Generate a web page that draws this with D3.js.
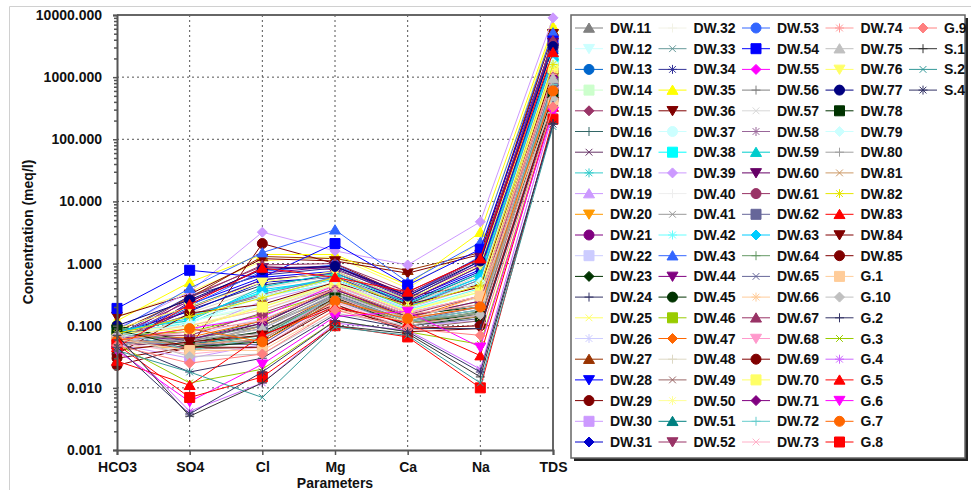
<!DOCTYPE html>
<html>
<head>
<meta charset="utf-8">
<script src="https://cdn.jsdelivr.net/npm/d3@7"></script>
<style>
  body { margin: 0; background: #fff; }
  text { font-family: "Liberation Sans", Arial, sans-serif; font-weight: bold; }
</style>
</head>
<body>
<div class="graphContainer"></div>
<script>
// size of the page
const w = 971;
const h = 490;

// parameters on x axis
const params = ["HCO3", "SO4", "Cl", "Mg", "Ca", "Na", "TDS"];

// sample names (legend order)
const names = ["DW.11","DW.12","DW.13","DW.14","DW.15","DW.16","DW.17","DW.18","DW.19","DW.20",
  "DW.21","DW.22","DW.23","DW.24","DW.25","DW.26","DW.27","DW.28","DW.29","DW.30",
  "DW.31","DW.32","DW.33","DW.34","DW.35","DW.36","DW.37","DW.38","DW.39","DW.40",
  "DW.41","DW.42","DW.43","DW.44","DW.45","DW.46","DW.47","DW.48","DW.49","DW.50",
  "DW.51","DW.52","DW.53","DW.54","DW.55","DW.56","DW.57","DW.58","DW.59","DW.60",
  "DW.61","DW.62","DW.63","DW.64","DW.65","DW.66","DW.67","DW.68","DW.69","DW.70",
  "DW.71","DW.72","DW.73","DW.74","DW.75","DW.76","DW.77","DW.78","DW.79","DW.80",
  "DW.81","DW.82","DW.83","DW.84","DW.85","G.1","G.10","G.2","G.3","G.4",
  "G.5","G.6","G.7","G.8","G.9","S.1","S.2","S.4"];

// concentrations (meq/l), one array per parameter, same order as names
const hco3 = [0.065,0.08,0.055,0.07,0.06,0.09,0.05,0.075,0.06,0.045,
  0.07,0.085,0.1,0.055,0.14,0.065,0.08,0.06,0.023,0.05,
  0.075,0.06,0.095,0.07,0.12,0.14,0.065,0.08,0.09,0.055,
  0.06,0.075,0.085,0.05,0.1,0.07,0.065,0.04,0.06,0.08,
  0.09,0.055,0.07,0.19,0.06,0.075,0.05,0.065,0.085,0.045,
  0.07,0.06,0.08,0.095,0.055,0.07,0.05,0.06,0.035,0.075,
  0.065,0.08,0.055,0.06,0.07,0.09,0.1,0.085,0.065,0.05,
  0.06,0.075,0.045,0.04,0.03,0.06,0.07,0.055,0.05,0.065,
  0.027,0.04,0.058,0.05,0.048,0.07,0.04,0.045];
const so4 = [0.15,0.09,0.2,0.12,0.3,0.06,0.05,0.11,0.08,0.045,
  0.25,0.1,0.055,0.18,0.35,0.07,0.28,0.22,0.045,0.03,
  0.17,0.13,0.04,0.3,0.5,0.32,0.12,0.14,0.35,0.06,
  0.05,0.11,0.4,0.19,0.055,0.08,0.065,0.16,0.042,0.1,
  0.05,0.045,0.21,0.78,0.09,0.06,0.04,0.15,0.12,0.24,
  0.07,0.055,0.13,0.045,0.05,0.1,0.28,0.05,0.16,0.09,
  0.06,0.04,0.035,0.08,0.055,0.2,0.26,0.045,0.11,0.06,
  0.05,0.14,0.22,0.055,0.045,0.04,0.032,0.018,0.012,0.0042,
  0.011,0.006,0.09,0.007,0.025,0.0035,0.018,0.0038];
const cl = [0.3,0.15,0.55,0.2,0.9,0.12,0.08,0.35,0.25,0.1,
  0.7,0.18,0.11,0.45,1.1,0.13,1.3,0.6,2.1,0.05,
  0.5,0.28,0.06,0.65,1.4,1.2,0.22,0.35,3.2,0.09,
  0.1,0.3,1.5,0.55,0.08,0.15,0.12,0.4,0.045,0.2,
  0.07,0.06,0.75,0.6,0.14,0.1,0.065,0.32,0.42,0.85,
  0.16,0.09,0.38,0.07,0.05,0.18,0.95,0.06,0.22,0.2,
  0.11,0.065,0.045,0.12,0.09,0.5,0.8,0.055,0.3,0.075,
  0.06,0.28,0.85,0.07,0.045,0.04,0.035,0.03,0.02,0.012,
  0.07,0.024,0.055,0.015,0.035,0.012,0.007,0.018];
const mg = [0.55,0.4,0.7,0.45,0.8,0.35,0.3,0.6,0.5,0.28,
  0.9,0.42,0.38,0.65,1.3,0.33,1.2,0.75,1.0,0.25,
  0.6,0.5,0.3,0.85,1.4,1.1,0.45,0.55,1.6,0.32,
  0.3,0.48,3.5,0.7,0.27,0.35,0.4,0.65,0.22,0.5,
  0.3,0.28,0.95,2.1,0.45,0.35,0.25,0.6,0.7,0.9,
  0.4,0.32,0.55,0.3,0.26,0.45,1.0,0.3,0.5,0.48,
  0.38,0.3,0.24,0.4,0.33,0.75,0.9,0.28,0.55,0.3,
  0.27,0.6,0.6,0.22,0.2,0.18,0.16,0.15,0.12,0.11,
  0.2,0.14,0.25,0.1,0.18,0.1,0.095,0.12];
const ca = [0.2,0.16,0.25,0.18,0.3,0.14,0.12,0.22,0.19,0.11,
  0.28,0.17,0.15,0.22,0.4,0.13,0.78,0.26,0.3,0.1,
  0.24,0.2,0.12,0.27,0.45,0.7,0.16,0.2,0.95,0.13,
  0.12,0.18,0.5,0.25,0.11,0.14,0.13,0.21,0.09,0.17,
  0.12,0.11,0.3,0.45,0.16,0.13,0.1,0.2,0.23,0.32,
  0.15,0.12,0.2,0.11,0.1,0.16,0.35,0.1,0.22,0.17,
  0.14,0.12,0.09,0.15,0.13,0.26,0.3,0.1,0.19,0.12,
  0.11,0.2,0.35,0.08,0.09,0.12,0.1,0.09,0.08,0.085,
  0.11,0.17,0.13,0.066,0.09,0.075,0.07,0.08];
const na = [0.5,0.3,0.9,0.35,1.2,0.22,0.18,0.6,0.45,0.16,
  1.0,0.28,0.2,0.7,2.2,0.25,1.5,0.8,0.45,0.12,
  0.75,0.5,0.15,1.1,3.2,1.4,0.35,0.55,4.7,0.2,
  0.18,0.4,2.2,0.9,0.15,0.25,0.3,0.65,0.12,0.38,
  0.16,0.14,1.3,1.7,0.3,0.2,0.13,0.55,0.7,1.25,
  0.3,0.2,0.6,0.17,0.13,0.3,1.2,0.15,0.42,0.35,
  0.25,0.18,0.1,0.22,0.2,0.95,1.1,0.14,0.5,0.16,
  0.14,0.45,1.2,0.09,0.1,0.3,0.15,0.09,0.05,0.02,
  0.033,0.045,0.2,0.01,0.07,0.015,0.012,0.018];
const tds = [1800,1200,2600,1400,3500,1000,800,2000,1600,700,
  3000,1100,900,2300,6000,1050,5500,2800,4500,600,
  2400,1700,750,3200,6500,5000,1300,1900,9000,850,
  780,1500,5200,2900,650,1000,1150,2100,550,1500,
  700,640,3300,3800,1250,900,600,1900,2200,3600,
  1300,850,2000,750,620,1200,3900,580,1200,1400,
  1000,760,500,1100,950,2700,3100,520,1700,680,
  640,1600,2500,400,420,380,450,350,300,260,
  330,280,600,210,330,180,160,175];

// marker colours, one per sample
const colors = ["#808080","#ccffff","#0066cc","#ccffcc","#993366","#336666","#663366","#33cccc","#cc99ff","#ff9900",
  "#800080","#ccccff","#003300","#333366","#ffff66","#ccccff","#993300","#0000ff","#800000","#cc99ff",
  "#0000cc","#f2f2e6","#669999","#333399","#ffff00","#800000","#ccffff","#00ffff","#cc99ff","#eeeeee",
  "#999999","#66ffff","#3366ff","#800080","#003300","#99cc00","#ff6600","#ddd8c4","#996666","#ffff99",
  "#008080","#993366","#3366ff","#0000ff","#ff00ff","#808080","#d8d8d8","#996699","#00cccc","#660066",
  "#993366","#666699","#00ccff","#669966","#666699","#ffcc99","#993366","#ff99cc","#800000","#ffff66",
  "#800080","#66cccc","#ffb0c8","#ff9999","#c0c0c0","#ffff66","#000080","#003300","#ccffff","#a0a0a0",
  "#cc9966","#e6e600","#ff0000","#800000","#800000","#ffcc99","#c0c0c0","#333366","#99cc00","#cc66ff",
  "#ff0000","#ff00ff","#ff6600","#ff0000","#ff8080","#333333","#339999","#333366"];

// marker shapes repeat every 8 samples
const shapes = ["tri", "tdn", "cir", "sq", "dia", "plus", "x", "star"];

const svg = d3.select(".graphContainer").append("svg")
  .attr("width", w)
  .attr("height", h);

// faint outer frame
svg.append("path")
  .attr("d", "M9.5," + h + "V6.5H" + w)
  .attr("fill", "none")
  .attr("stroke", "#d0d0d0");

const xScale = d3.scalePoint().domain(params).range([117, 553]);
const yScale = d3.scaleLog().domain([0.001, 10000]).range([450, 15]);

const majors = [0.001, 0.01, 0.1, 1, 10, 100, 1000, 10000];
let minors = [];
majors.slice(0, -1).forEach((m) => {
  for (let k = 2; k < 10; k++) minors.push(m * k);
});

// dotted grid
svg.append("g").selectAll("line")
  .data(majors.slice(1, -1))
  .enter().append("line")
  .attr("x1", 117).attr("x2", 553)
  .attr("y1", (d) => yScale(d)).attr("y2", (d) => yScale(d))
  .attr("stroke", "#555").attr("stroke-dasharray", "2,3");

svg.append("g").selectAll("line")
  .data(params.slice(1, -1))
  .enter().append("line")
  .attr("x1", (d) => xScale(d)).attr("x2", (d) => xScale(d))
  .attr("y1", 15).attr("y2", 450)
  .attr("stroke", "#555").attr("stroke-dasharray", "2,3");

// top and right frame
svg.append("path")
  .attr("d", "M117,15H553V450")
  .attr("fill", "none")
  .attr("stroke", "#666")
  .attr("stroke-width", 2);

// marker path
function markerPath(type, r) {
  const p = d3.path();
  if (type === "tri") {
    p.moveTo(0, -r); p.lineTo(r * 1.1, r * 0.85); p.lineTo(-r * 1.1, r * 0.85); p.closePath();
  } else if (type === "tdn") {
    p.moveTo(0, r); p.lineTo(r * 1.1, -r * 0.85); p.lineTo(-r * 1.1, -r * 0.85); p.closePath();
  } else if (type === "cir") {
    p.arc(0, 0, r, 0, 2 * Math.PI);
  } else if (type === "sq") {
    p.rect(-r, -r, 2 * r, 2 * r);
  } else if (type === "dia") {
    p.moveTo(0, -r); p.lineTo(r, 0); p.lineTo(0, r); p.lineTo(-r, 0); p.closePath();
  } else if (type === "plus") {
    p.moveTo(-r, 0); p.lineTo(r, 0); p.moveTo(0, -r); p.lineTo(0, r);
  } else if (type === "x") {
    const a = r * 0.75;
    p.moveTo(-a, -a); p.lineTo(a, a); p.moveTo(-a, a); p.lineTo(a, -a);
  } else {
    const a = r * 0.75;
    p.moveTo(-r, 0); p.lineTo(r, 0); p.moveTo(0, -r); p.lineTo(0, r);
    p.moveTo(-a, -a); p.lineTo(a, a); p.moveTo(-a, a); p.lineTo(a, -a);
  }
  return p.toString();
}
const filled = (t) => !(t === "plus" || t === "x" || t === "star");

const series = names.map((n, i) => ({
  name: n,
  color: colors[i],
  shape: shapes[i % 8],
  values: [hco3[i], so4[i], cl[i], mg[i], ca[i], na[i], tds[i]]
}));

const line = d3.line()
  .x((d, j) => xScale(params[j]))
  .y((d) => yScale(d));

const groups = svg.append("g").selectAll("g")
  .data(series)
  .enter().append("g");

groups.append("path")
  .attr("d", (d) => line(d.values))
  .attr("fill", "none")
  .attr("stroke", (d) => d.color)
  .attr("stroke-width", 1);

groups.each(function (s) {
  d3.select(this).selectAll(".mk")
    .data(s.values)
    .enter().append("path")
    .attr("class", "mk")
    .attr("transform", (d, j) => "translate(" + xScale(params[j]) + "," + yScale(d) + ")")
    .attr("d", markerPath(s.shape, filled(s.shape) ? 5 : 4.5))
    .attr("fill", filled(s.shape) ? s.color : "none")
    .attr("stroke", s.color)
    .attr("stroke-width", 1);
});

// axes
const yAxis = d3.axisLeft(yScale)
  .tickValues(majors)
  .tickFormat(d3.format(".3f"))
  .tickSize(4)
  .tickPadding(11);

const yg = svg.append("g")
  .attr("transform", "translate(117,0)")
  .call(yAxis);
yg.selectAll("text").style("font-size", "14px").attr("fill", "#111");

const yMinor = svg.append("g")
  .attr("transform", "translate(117,0)")
  .call(d3.axisLeft(yScale).tickValues(minors).tickFormat("").tickSize(3));
yMinor.select(".domain").remove();

const xg = svg.append("g")
  .attr("transform", "translate(0,450)")
  .call(d3.axisBottom(xScale).tickSize(5).tickPadding(7));
xg.selectAll("text").style("font-size", "14px").attr("fill", "#111");

svg.selectAll(".domain").attr("stroke", "#555").attr("stroke-width", 2);
svg.selectAll(".tick line").attr("stroke", "#555").attr("stroke-width", 1.5);

// axis titles
svg.append("text")
  .attr("transform", "translate(33,232) rotate(-90)")
  .attr("text-anchor", "middle")
  .style("font-size", "14px")
  .attr("fill", "#111")
  .text("Concentration (meq/l)");

svg.append("text")
  .attr("x", 335)
  .attr("y", 488)
  .attr("text-anchor", "middle")
  .style("font-size", "14px")
  .attr("fill", "#111")
  .text("Parameters");

// legend box with shadow
svg.append("rect")
  .attr("x", 574).attr("y", 18)
  .attr("width", 394).attr("height", 443)
  .attr("fill", "#222");
svg.append("rect")
  .attr("x", 571).attr("y", 15)
  .attr("width", 394).attr("height", 443)
  .attr("fill", "#fff")
  .attr("stroke", "#666")
  .attr("stroke-width", 1.5);

const rows = 21;
const leg = svg.append("g").selectAll("g")
  .data(series)
  .enter().append("g")
  .attr("transform", (d, i) => "translate(" + (589 + 83.5 * Math.floor(i / rows)) + "," + (28 + 20.7 * (i % rows)) + ")");

leg.append("line")
  .attr("x1", -14).attr("x2", 14)
  .attr("stroke", (d) => d.color);

leg.append("path")
  .attr("d", (d) => markerPath(d.shape, filled(d.shape) ? 5 : 4.5))
  .attr("fill", (d) => filled(d.shape) ? d.color : "none")
  .attr("stroke", (d) => d.color);

leg.append("text")
  .attr("x", 21)
  .attr("dy", "0.36em")
  .style("font-size", "14px")
  .attr("fill", "#111")
  .text((d) => d.name);
</script>
</body>
</html>
